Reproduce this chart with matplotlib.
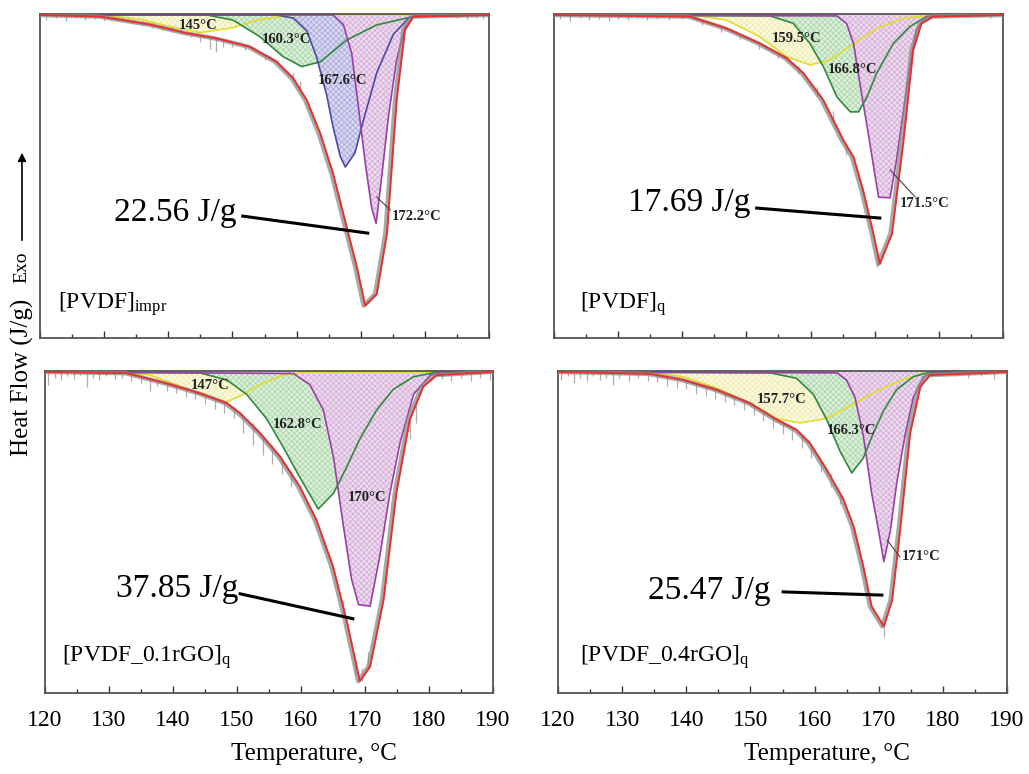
import numpy as np
import matplotlib
matplotlib.use("Agg")
import matplotlib.pyplot as plt
from matplotlib.ticker import MultipleLocator

plt.rcParams['font.family'] = ['Liberation Serif', 'DejaVu Serif']
plt.rcParams['mathtext.fontset'] = 'custom'
plt.rcParams['mathtext.rm'] = 'Liberation Serif'
plt.rcParams['mathtext.it'] = 'Liberation Serif:italic'
plt.rcParams['hatch.linewidth'] = 0.5

# --- Data (temperature in degC, depth below baseline in % of panel) ---
# [PVDF]impr
tl_total_t = [120, 129.4, 137.2, 142.9, 147.5, 152.7, 156.9, 159.5, 161.6, 163.7, 165.7, 167.8, 169.4, 170.7, 172.5, 174.1, 175.6, 176.9, 178.2, 190]
tl_total_d = [0, 0.5, 3, 5.7, 7.3, 9.9, 14.6, 19.8, 26.6, 37, 49.5, 66, 78.6, 90.6, 87, 68, 26.6, 4.7, 0.5, 0]
tl_yel_t = [120, 130, 136, 140, 145, 150, 154, 158, 162, 190]
tl_yel_d = [0, 0, 1.5, 3.5, 5.5, 4, 1.5, 0.3, 0, 0]
tl_grn_t = [120, 146, 150.1, 154.3, 157.9, 160.8, 163.7, 167.8, 172.5, 178.2, 190]
tl_grn_d = [0, 0, 1.6, 6.8, 13, 16.1, 14.6, 7.8, 3.1, 0.5, 0]
tl_blu_t = [120, 156.9, 159.5, 161.6, 163.1, 164.7, 165.7, 166.8, 167.6, 169.1, 170.4, 172.5, 175.1, 177.7, 190]
tl_blu_d = [0, 0, 1, 5, 13, 25, 35, 44, 47.4, 43, 33, 18, 6, 0.5, 0]
tl_pur_t = [120, 165.7, 167.3, 168.6, 169.6, 170.7, 171.7, 172.4, 173.3, 174.3, 175.6, 176.9, 178.5, 190]
tl_pur_d = [0, 0, 3, 12, 28, 46, 60, 65, 50, 32, 14, 4, 0, 0]
# grey measured-signal noise: (T, top depth, bottom depth)
tl_noise = [(121, 0, 1.6), (122.5, 0, 1), (124, 0, 2), (125.5, 0, 0.8), (127, 0, 1.5), (128.5, 0, 1.1),
            (130, 0.3, 1.8), (131.5, 0.5, 1.4), (133, 0.8, 2), (134.5, 1.2, 2.4), (136, 1.8, 3.2),
            (137.5, 2.5, 4), (139, 3, 4.6), (140.5, 3.8, 5.4), (142, 4.5, 6), (143.5, 5.5, 7),
            (145, 6.2, 8.5), (146.5, 6.8, 10.5), (147.5, 7, 11.5), (148.5, 7.5, 10), (150, 8.5, 10),
            (152, 9.5, 11), (155, 12.5, 14), (159.5, 18, 20.5), (160.5, 20.5, 23.5),
            (185, 0, 1), (186.5, 0, 1.3), (188, 0, 0.8), (189, 0, 1.2)]

# [PVDF]q
tr_total_t = [120, 141.2, 146.9, 152.1, 156.3, 158.9, 162, 165.1, 166.7, 168.2, 169.8, 170.8, 172.7, 174.5, 176, 177.3, 179.1, 190]
tr_total_d = [0, 0.5, 4.2, 8.9, 13.5, 18.2, 26.6, 39, 44.3, 54.7, 68.2, 77.6, 68.2, 39, 11, 2.6, 0.5, 0]
tr_yel_t = [120, 141.7, 146.9, 152.1, 156.3, 159.9, 163, 166.7, 170.3, 174.5, 178.1, 190]
tr_yel_d = [0, 0, 1.6, 6.8, 13, 15.6, 14.1, 8.9, 4.2, 1, 0.3, 0]
tr_grn_t = [120, 153.7, 157.3, 159.9, 162, 164.1, 166.2, 167.5, 168.8, 170.3, 172.9, 175.5, 178.1, 190]
tr_grn_d = [0, 0.3, 2.6, 8.9, 16.1, 25.5, 30.2, 30.2, 25.5, 18.2, 8.9, 3.6, 0.5, 0]
tr_pur_t = [120, 164.1, 165.6, 166.7, 167.7, 169, 170.6, 172.4, 173.4, 174.5, 175.5, 176.5, 178.1, 190]
tr_pur_d = [0, 0.3, 2.6, 8.9, 21.4, 37, 56.8, 57, 45.3, 29.7, 16.1, 4.7, 0.5, 0]
tr_noise = [(121, 0, 1.3), (122.5, 0, 2), (124, 0, 1), (125.5, 0, 1.7), (127, 0, 1.2), (128.5, 0, 1.9),
            (130, 0, 1.1), (131.5, 0, 1.5), (133, 0, 1), (134.5, 0, 1.7), (136, 0, 1.2), (138, 0, 1.5),
            (140, 0.3, 1.4), (143, 1.5, 3.2), (146, 3.5, 5.2), (149, 6, 7.6), (152, 8.5, 10.5),
            (155, 11.5, 13.5), (158, 16, 18.5), (161, 22.5, 25.5), (163.5, 30, 33.5), (165.5, 40, 43.5),
            (170.3, 74, 78.5), (188, 0, 1)]

# [PVDF_0.1rGO]q
bl_total_t = [120, 132.8, 139, 144.2, 148.4, 150.5, 153.6, 156.7, 159.8, 162.4, 165, 167.1, 169.2, 170.8, 172.9, 174.9, 177, 179.1, 181.2, 190]
bl_total_d = [0, 0.4, 3.6, 6.7, 9.8, 13, 19.2, 26.5, 35.9, 46.4, 61, 77.7, 97, 92.4, 71.5, 38, 15, 4.6, 1, 0]
bl_yel_t = [120, 132.8, 136.4, 140.6, 144.2, 148.4, 150.5, 153.6, 157.2, 160.9, 190]
bl_yel_d = [0, 0, 1, 4, 7, 9.4, 7.5, 4, 1, 0, 0]
bl_grn_t = [120, 144.2, 148.4, 151.5, 154.6, 157.2, 159.8, 161.4, 162.7, 165.1, 167.1, 169.2, 171.8, 174.4, 177.6, 180.7, 190]
bl_grn_d = [0, 0.3, 2.5, 7, 14.6, 23.5, 33, 38.5, 43, 38, 30, 21, 12, 5.5, 1.5, 0.3, 0]
bl_pur_t = [120, 158.8, 161.4, 163.5, 165.1, 166.6, 167.9, 169, 170.8, 172.3, 173.9, 175.5, 177.6, 180.2, 182.2, 190]
bl_pur_d = [0, 0.5, 4, 12, 27, 48, 65, 73, 73.5, 58, 38, 22, 7, 1, 0, 0]
bl_noise = [(120.5, 0, 4), (121.5, 0, 1.8), (122.5, 0, 2.6), (123.5, 0, 1.3), (124.5, 0, 2.2), (125.5, 0, 1),
            (126.5, 0, 4.8), (127.5, 0, 1.8), (128.5, 0, 2.6), (129.5, 0, 1.3), (131, 0, 2.2), (132, 0.3, 1.8),
            (133.5, 0.6, 3), (135, 1.2, 3.6), (136.4, 1.8, 6), (137.5, 2.4, 4.5), (139, 3.4, 6),
            (140.5, 4.2, 6.5), (142, 5, 8), (143.5, 6, 8.5), (145, 7, 10), (146.5, 8, 11.5),
            (148, 9.3, 13), (149.5, 11, 14.5), (151, 13.5, 19), (152.5, 16, 23), (154, 20, 26),
            (155.5, 23, 29), (157, 27, 32), (158.5, 31, 36), (166.5, 72, 76), (168.5, 90, 95),
            (169.5, 93, 97), (170.5, 88, 93), (177, 15, 21), (178, 10, 16), (182, 0, 2.2),
            (183.5, 0, 2.7), (185, 0, 1.8), (186.5, 0, 3), (188, 0, 2), (189.5, 0, 2.6)]

# [PVDF_0.4rGO]q
br_total_t = [120, 134.3, 139.5, 144.7, 149.9, 154.1, 157.2, 159.3, 161.9, 164.5, 166.1, 167.6, 168.9, 170.8, 172.1, 173.4, 174.9, 176.5, 178, 190]
br_total_d = [0, 0.6, 2.5, 5.6, 9.8, 15, 18.2, 22.4, 30.7, 40, 48.5, 61, 73.6, 79.8, 71.5, 48.5, 19.2, 4.6, 1, 0]
br_yel_t = [120, 134.3, 139.5, 144.7, 149.9, 154.1, 157.7, 161.9, 166.1, 169.7, 173.4, 177, 190]
br_yel_d = [0, 0, 1.5, 5, 9.8, 14.6, 16, 14.6, 10, 6, 2.6, 0.5, 0]
br_grn_t = [120, 153.1, 157.2, 159.8, 161.9, 164, 165.8, 167.6, 169.2, 170.8, 172.8, 175.4, 177.5, 190]
br_grn_d = [0, 0.3, 2, 7, 15, 25, 31.7, 27, 19, 12, 5.5, 1.5, 0.3, 0]
br_pur_t = [120, 163.5, 165, 166.3, 167.6, 168.9, 170, 170.8, 171.8, 172.8, 174.1, 175.4, 177, 178.6, 190]
br_pur_d = [0, 0.3, 2.6, 8, 20, 38, 50, 59.5, 50, 35, 20, 8, 1.5, 0, 0]
br_noise = [(120.5, 0, 2.6), (121.5, 0, 1.3), (122.5, 0, 3.5), (123.5, 0, 1.8), (124.5, 0, 3), (125.5, 0, 1.3),
            (126.5, 0, 2.6), (127.5, 0, 1.8), (128.5, 0, 4), (129.5, 0, 1.8), (131, 0, 3), (132.5, 0, 1.8),
            (134, 0.3, 2.7), (135.5, 0.8, 3.2), (137, 1.2, 4.5), (138.5, 2, 5), (140, 2.8, 5.5),
            (141.5, 3.6, 7), (143, 4.5, 7.5), (144.5, 5.4, 8.5), (146, 6.5, 9.5), (147.5, 7.5, 10.5),
            (149, 9, 12), (150.5, 10.5, 13.5), (152, 12, 15.5), (153.5, 14, 17.5), (155, 15.5, 19.5),
            (156.5, 17.5, 21.5), (158, 19.5, 24), (159.5, 22.5, 27), (161, 28, 31.5), (162.5, 32, 36),
            (164, 38, 41.5), (170.8, 80, 83), (182, 0, 1.3), (184, 0, 1.8), (186, 0, 1.3), (188, 0, 2.2)]

sample_names = [r'[PVDF]$_{\mathrm{impr}}$', r'[PVDF]$_{\mathrm{q}}$',
                r'[PVDF_0.1rGO]$_{\mathrm{q}}$', r'[PVDF_0.4rGO]$_{\mathrm{q}}$']
enthalpies = ['22.56 J/g', '17.69 J/g', '37.85 J/g', '25.47 J/g']

# peak labels: (text, T, depth)
tl_peaks = [('145°C', 144.6, 3.4), ('160.3°C', 158.5, 7.8), ('167.6°C', 167.2, 20.3)]
tr_peaks = [('159.5°C', 157.9, 7.2), ('166.8°C', 166.6, 17.1)]
bl_peaks = [('147°C', 145.8, 4.4), ('162.8°C', 159.4, 16.6), ('170°C', 170.3, 39.5)]
br_peaks = [('157.7°C', 154.9, 8.5), ('166.3°C', 165.8, 18.5)]

# labels with a leader line: (text, text T, text depth, line T0, d0, T1, d1)
tl_lead = [('172.2°C', 174.8, 62.7, 172.5, 56.7, 174.6, 60.8)]
tr_lead = [('171.5°C', 173.9, 58.9, 172.4, 48.3, 176.3, 56.7)]
bl_lead = []
br_lead = [('171°C', 173.6, 58.0, 171.3, 52.7, 173.3, 58.0)]

# enthalpy text (right edge T, depth) and pointer line
enth_pos = [(150.7, 61.7), (150.6, 58.6), (150.2, 68.0), (153.1, 68.7)]
enth_line = [(151.6, 62.7, 171.1, 68.0), (151.6, 60.2, 170.8, 63.3),
             (150.5, 69.6, 168.1, 77.4), (155.1, 69.0, 170.5, 70.0)]
name_pos = [(122.8, 90), (124.0, 90), (122.7, 89.3), (123.4, 89.3)]

# colours: line, fill, hatch
red = '#e5322f'
comp_style = {
    'yel': ('#e2dc2c', '#fbfadc', '#ebe9b0'),
    'grn': ('#2f8a3c', '#dcefd8', '#a6d3aa'),
    'blu': ('#4a48a8', '#d8d8f0', '#a6a4d8'),
    'pur': ('#9b3fa6', '#eedaee', '#d0a8d4'),
}

panels = [
    (tl_total_t, tl_total_d, [('yel', tl_yel_t, tl_yel_d), ('grn', tl_grn_t, tl_grn_d),
                              ('blu', tl_blu_t, tl_blu_d), ('pur', tl_pur_t, tl_pur_d)],
     tl_peaks, tl_lead, tl_noise),
    (tr_total_t, tr_total_d, [('yel', tr_yel_t, tr_yel_d), ('grn', tr_grn_t, tr_grn_d),
                              ('pur', tr_pur_t, tr_pur_d)], tr_peaks, tr_lead, tr_noise),
    (bl_total_t, bl_total_d, [('yel', bl_yel_t, bl_yel_d), ('grn', bl_grn_t, bl_grn_d),
                              ('pur', bl_pur_t, bl_pur_d)], bl_peaks, bl_lead, bl_noise),
    (br_total_t, br_total_d, [('yel', br_yel_t, br_yel_d), ('grn', br_grn_t, br_grn_d),
                              ('pur', br_pur_t, br_pur_d)], br_peaks, br_lead, br_noise),
]

# axes rectangles in figure fraction
rects = [[0.0389, 0.5633, 0.4363, 0.4186], [0.5384, 0.5633, 0.4363, 0.4186],
         [0.0437, 0.1047, 0.4354, 0.4160], [0.5423, 0.1047, 0.4363, 0.4160]]

fig = plt.figure(figsize=(10.29, 7.74), dpi=100)

for i, (tt, td, comps, peaks, leads, noise) in enumerate(panels):
    ax = fig.add_axes(rects[i])
    tt = np.array(tt)
    td = -np.array(td)

    for key, ct, cd in comps:
        line_c, face_c, hatch_c = comp_style[key]
        ax.fill_between(np.array(ct), -np.array(cd), 0, facecolor=face_c, edgecolor=hatch_c,
                        hatch='xxxxxx', linewidth=0, zorder=1)
    for key, ct, cd in comps:
        ax.plot(ct, -np.array(cd), color=comp_style[key][0], lw=1.2, zorder=2)

    # measured signal (grey, noisy) under the fitted sum (red)
    nt = [n[0] for n in noise]
    ax.vlines(nt, [-n[1] for n in noise], [-n[2] for n in noise], color='#9a9a9a',
              lw=0.9, alpha=0.8, zorder=3)
    ax.plot(tt - 0.25, td, color='#8c8c8c', lw=3.2, alpha=0.75, zorder=3)
    ax.plot(tt, td, color=red, lw=1.4, zorder=4)

    for txt, x, y in peaks:
        ax.text(x, -y, txt, ha='center', va='center', fontsize=10.5,
                fontweight='bold', color='#222222', zorder=6)
    for txt, x, y, x0, y0, x1, y1 in leads:
        ax.plot([x0, x1], [-y0, -y1], color='#444444', lw=0.8, zorder=6)
        ax.text(x, -y, txt, ha='left', va='center', fontsize=10.5,
                fontweight='bold', color='#222222', zorder=6)

    ex, ey = enth_pos[i]
    ax.text(ex, -ey, enthalpies[i], ha='right', va='center', fontsize=24, zorder=7)
    x0, y0, x1, y1 = enth_line[i]
    ax.plot([x0, x1], [-y0, -y1], color='black', lw=2.2, zorder=7)

    nx, ny = name_pos[i]
    ax.text(nx, -ny, sample_names[i], ha='left', va='center', fontsize=17, zorder=7)

    ax.set_xlim(120, 190)
    ax.set_ylim(-100.7, 0.3)
    ax.xaxis.set_major_locator(MultipleLocator(10))
    ax.xaxis.set_minor_locator(MultipleLocator(5))
    ax.tick_params(axis='x', which='major', direction='in', length=5, width=1,
                   labelsize=17, pad=12, colors='#333333', labelcolor='black')
    ax.tick_params(axis='x', which='minor', direction='in', length=3, width=1, colors='#333333')
    ax.set_yticks([])
    for sp in ax.spines.values():
        sp.set_color('#555555')
        sp.set_linewidth(1.3)
    if i < 2:
        ax.tick_params(axis='x', labelbottom=False)
    else:
        ax.set_xlabel('Temperature, °C', fontsize=18)
        ax.xaxis.set_label_coords(0.6, -0.155)

fig.text(22 / 1029, 1 - 377 / 774, 'Heat Flow (J/g)', rotation=90, ha='center', va='center', fontsize=18)
fig.text(22 / 1029, 1 - 267 / 774, 'Exo', rotation=90, ha='center', va='center', fontsize=14)
fig.add_artist(matplotlib.patches.FancyArrowPatch(
    (22 / 1029, 1 - 243 / 774), (22 / 1029, 1 - 150 / 774), transform=fig.transFigure,
    arrowstyle='-|>', mutation_scale=12, color='black', lw=1.2))

fig.savefig('out.png', dpi=100)
